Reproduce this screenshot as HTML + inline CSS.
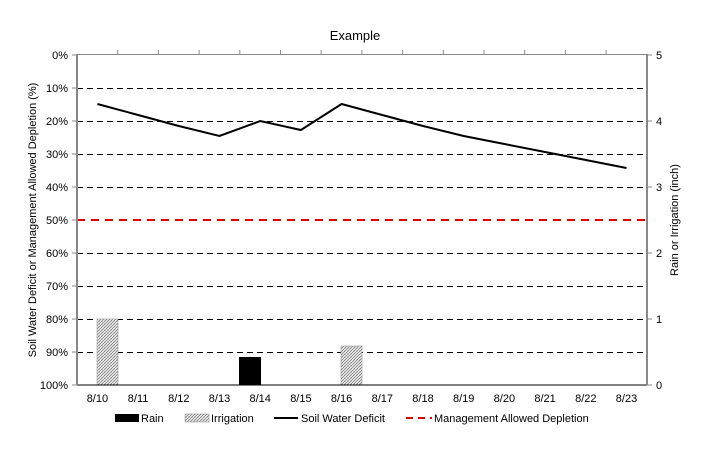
<!DOCTYPE html>
<html><head><meta charset="utf-8"><style>html,body{margin:0;padding:0;background:#fff}svg{display:block}</style></head>
<body>
<svg width="711" height="460" xmlns="http://www.w3.org/2000/svg" font-family="Liberation Sans, sans-serif" font-size="11" fill="#000">
<defs>
<pattern id="hatch" width="3" height="3" patternUnits="userSpaceOnUse">
<rect width="3" height="3" fill="#fff"/>
<path d="M0,3 L3,0" stroke="#777" stroke-width="0.8"/>
<path d="M0,0 L3,3" stroke="#aaa" stroke-width="0.5"/>
</pattern>
</defs>
<text x="355" y="40" font-size="13" text-anchor="middle">Example</text>
<g stroke="#000" stroke-width="1" stroke-dasharray="6,4">
<line x1="77" x2="647" y1="88.5" y2="88.5"/><line x1="77" x2="647" y1="121.5" y2="121.5"/>
<line x1="77" x2="647" y1="154.5" y2="154.5"/><line x1="77" x2="647" y1="187.5" y2="187.5"/>
<line x1="77" x2="647" y1="253.5" y2="253.5"/>
<line x1="77" x2="647" y1="286.5" y2="286.5"/><line x1="77" x2="647" y1="319.5" y2="319.5"/>
<line x1="77" x2="647" y1="352.5" y2="352.5"/>
</g>
<line x1="77" x2="647" y1="220" y2="220" stroke="#e00000" stroke-width="2" stroke-dasharray="8,6"/>
<rect x="97" y="319" width="21" height="66" fill="url(#hatch)" stroke="#888" stroke-width="0.5"/>
<rect x="341" y="346" width="21" height="39" fill="url(#hatch)" stroke="#888" stroke-width="0.5"/>
<rect x="239" y="357" width="22" height="28" fill="#000"/>
<polyline fill="none" stroke="#000" stroke-width="2" points="97.4,104 138.1,115 178.8,126 219.5,136 260.2,121 300.9,130 341.6,104 382.3,115 423,126 463.7,136 504.4,144 545.1,152 585.8,160 626.5,168"/>
<line x1="77" x2="647" y1="54.5" y2="54.5" stroke="#888"/>
<line x1="77" x2="647" y1="385" y2="385" stroke="#000"/>
<line x1="77" x2="77" y1="54" y2="385" stroke="#888" stroke-width="2"/>
<line x1="647" x2="647" y1="54" y2="385" stroke="#888" stroke-width="2"/>
<g stroke="#888">
<path d="M72,55H77M72,88H77M72,121H77M72,154H77M72,187H77M72,220H77M72,253H77M72,286H77M72,319H77M72,352H77M72,385H77"/>
<path d="M647,55H652M647,121H652M647,187H652M647,253H652M647,319H652M647,385H652"/>
<path d="M117.7,50V55M158.4,50V55M199.1,50V55M239.8,50V55M280.5,50V55M321.2,50V55M361.9,50V55M402.6,50V55M443.3,50V55M484,50V55M524.7,50V55M565.4,50V55M606.1,50V55"/>
</g>
<g text-anchor="end">
<text x="68" y="59">0%</text><text x="68" y="92">10%</text><text x="68" y="125">20%</text><text x="68" y="158">30%</text><text x="68" y="191">40%</text><text x="68" y="224">50%</text><text x="68" y="257">60%</text><text x="68" y="290">70%</text><text x="68" y="323">80%</text><text x="68" y="356">90%</text><text x="68" y="389">100%</text>
</g>
<g>
<text x="656" y="59">5</text><text x="656" y="125">4</text><text x="656" y="191">3</text><text x="656" y="257">2</text><text x="656" y="323">1</text><text x="656" y="389">0</text>
</g>
<g text-anchor="middle">
<text x="97.4" y="402">8/10</text><text x="138.1" y="402">8/11</text><text x="178.8" y="402">8/12</text><text x="219.5" y="402">8/13</text><text x="260.2" y="402">8/14</text><text x="300.9" y="402">8/15</text><text x="341.6" y="402">8/16</text><text x="382.3" y="402">8/17</text><text x="423" y="402">8/18</text><text x="463.7" y="402">8/19</text><text x="504.4" y="402">8/20</text><text x="545.1" y="402">8/21</text><text x="585.8" y="402">8/22</text><text x="626.5" y="402">8/23</text>
</g>
<text transform="translate(36,220) rotate(-90)" text-anchor="middle">Soil Water Deficit or Management Allowed Depletion (%)</text>
<text transform="translate(678,220) rotate(-90)" text-anchor="middle">Rain or Irrigation (inch)</text>
<rect x="115" y="414" width="24" height="8" fill="#000"/>
<text x="141" y="422">Rain</text>
<rect x="185" y="414" width="24" height="8" fill="url(#hatch)" stroke="#888" stroke-width="0.5"/>
<text x="211" y="422">Irrigation</text>
<line x1="274" x2="298" y1="418" y2="418" stroke="#000" stroke-width="2"/>
<text x="301" y="422">Soil Water Deficit</text>
<line x1="406" x2="432" y1="418" y2="418" stroke="#e00000" stroke-width="2" stroke-dasharray="7,5"/>
<text x="434" y="422">Management Allowed Depletion</text>
</svg>
</body></html>
